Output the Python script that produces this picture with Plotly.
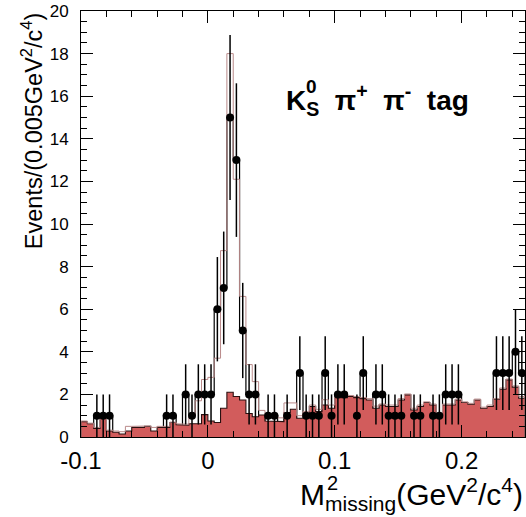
import numpy as np
import plotly.graph_objects as go

# ---- data (bins of 0.005 GeV^2/c^4 from -0.1 to 0.25) ----
x_min, bin_w, n_bins = -0.1, 0.005, 70
data_counts = [0, 0, 1, 1, 1, 0, 0, 0, 0, 0,
               0, 0, 0, 1, 1, 0, 2, 1, 2, 2,
               2, 6, 7, 15, 13, 5, 2, 2, 0, 1,
               1, 0, 1, 0, 3, 1, 1, 1, 3, 1,
               2, 2, 0, 1, 3, 0, 2, 2, 1, 1,
               1, 0, 1, 1, 0, 1, 1, 2, 2, 2,
               0, 0, 0, 0, 0, 3, 3, 3, 4, 3]
background = [0.72, 0.62, 0.40, 1.00, 0.28, 0.22, 0.14, 0.28, 0.45, 0.45,
              0.50, 0.28, 0.45, 0.45, 0.68, 0.58, 0.55, 0.62, 0.62, 1.05,
              0.75, 0.68, 1.35, 2.10, 1.90, 1.74, 1.10, 0.95, 1.03, 0.75,
              0.72, 0.72, 1.15, 1.30, 0.88, 1.11, 1.43, 1.19, 1.50, 1.35,
              1.85, 1.85, 1.90, 1.85, 1.80, 1.74, 1.35, 1.50, 1.43, 1.43,
              1.74, 1.98, 1.27, 1.43, 1.62, 1.50, 1.03, 1.50, 1.50, 1.74,
              1.62, 1.54, 1.74, 1.35, 1.43, 1.77, 2.24, 2.68, 2.34, 1.82]
mc_total = [0.75, 0.65, 0.45, 1.05, 0.32, 0.28, 0.25, 0.50, 0.50, 0.50,
            0.52, 0.45, 0.50, 0.50, 0.70, 0.62, 0.60, 1.00, 1.70, 2.70,
            2.80, 3.70, 8.75, 18.0, 12.1, 6.60, 3.40, 2.60, 1.25, 1.00,
            1.00, 0.90, 1.60, 1.60, 1.00, 1.20, 1.50, 1.30, 1.75, 1.50,
            1.90, 2.10, 1.95, 1.90, 1.85, 1.80, 1.45, 1.55, 1.50, 1.50,
            1.80, 2.02, 1.35, 1.50, 1.65, 1.55, 1.10, 1.55, 1.55, 1.78,
            1.65, 1.58, 1.78, 1.40, 1.50, 1.80, 2.30, 2.72, 2.40, 1.90]
x_ticks = [-0.1, 0.0, 0.1, 0.2]
x_tick_text = ["-0.1", "0", "0.1", "0.2"]
y_ticks = [0, 2, 4, 6, 8, 10, 12, 14, 16, 18, 20]

edges = x_min + bin_w * np.arange(n_bins + 1)
centers = edges[:-1] + bin_w / 2


def step_xy(vals):
    xs, ys = [edges[0]], [0.0]
    for i, v in enumerate(vals):
        xs += [edges[i], edges[i + 1]]
        ys += [v, v]
    xs.append(edges[-1])
    ys.append(0.0)
    return xs, ys


FONT = "Liberation Sans, Arial, sans-serif"
fig = go.Figure()

# data histogram as black steps
dx, dy = step_xy(data_counts)
fig.add_trace(go.Scatter(x=dx, y=dy, mode="lines",
                         line=dict(color="black", width=1.2), hoverinfo="skip",
                         showlegend=False))
# background filled
bx, by = step_xy(background)
fig.add_trace(go.Scatter(x=bx, y=by, mode="lines", fill="tozeroy",
                         fillcolor="#d25c5c",
                         line=dict(color="#2a1010", width=1.1), hoverinfo="skip",
                         showlegend=False))
# MC total thin line
mx, my = step_xy(mc_total)
fig.add_trace(go.Scatter(x=mx, y=my, mode="lines",
                         line=dict(color="#b98a8a", width=1), hoverinfo="skip",
                         showlegend=False))
# data points
dc = np.array(data_counts, dtype=float)
mask = dc > 0
fig.add_trace(go.Scatter(x=centers[mask], y=dc[mask], mode="markers",
                         marker=dict(color="black", size=8),
                         error_y=dict(type="data", array=np.sqrt(dc[mask]),
                                      color="black", thickness=1.5, width=0),
                         showlegend=False))

fig.update_layout(
    width=526, height=517,
    margin=dict(l=81, r=1, t=11, b=80),
    paper_bgcolor="white", plot_bgcolor="white",
    font=dict(family=FONT, color="black"),
    xaxis=dict(range=[-0.1, 0.25], tickvals=x_ticks, ticktext=x_tick_text,
               ticks="inside", ticklen=12, tickwidth=1, tickcolor="black",
               showline=True, linecolor="black", linewidth=1, mirror="ticks",
               showgrid=False, zeroline=False,
               tickfont=dict(size=24, family=FONT),
               ticklabelstandoff=2,
               minor=dict(dtick=0.02, tick0=0, ticks="inside", ticklen=6,
                          tickcolor="black", showgrid=False)),
    yaxis=dict(range=[0, 20], tickvals=y_ticks,
               ticks="inside", ticklen=12, tickwidth=1, tickcolor="black",
               showline=True, linecolor="black", linewidth=1, mirror="ticks",
               showgrid=False, zeroline=False,
               tickfont=dict(size=17, family=FONT),
               ticklabelstandoff=8,
               minor=dict(dtick=0.5, tick0=0, ticks="inside", ticklen=6,
                          tickcolor="black", showgrid=False)),
)

# axis titles
fig.add_annotation(text="M<sub>missing</sub>(GeV<sup>2</sup>/c<sup>4</sup>)",
                   xref="paper", yref="paper", x=1.0, y=-0.188,
                   xanchor="right", yanchor="bottom", showarrow=False,
                   font=dict(size=30, family=FONT))
fig.add_annotation(text="2", xref="paper", yref="paper", x=0.5495, y=-0.0775,
                   xanchor="left", yanchor="top", showarrow=False,
                   font=dict(size=20, family=FONT))
fig.add_annotation(text="Events/(0.005GeV<sup>2</sup>/c<sup>4</sup>)",
                   xref="paper", yref="paper", x=-0.11, y=1.0,
                   xanchor="center", yanchor="top", textangle=-90,
                   showarrow=False, font=dict(size=23.5, family=FONT))
# label
fig.add_annotation(text="<b>K<sub>S</sub>&nbsp; π<sup>+</sup>&nbsp; π<sup>-</sup>&nbsp; tag</b>",
                   xref="paper", yref="paper", x=0.457, y=0.791,
                   xanchor="left", yanchor="middle", showarrow=False,
                   font=dict(size=28, family=FONT))
fig.add_annotation(text="<b>0</b>", xref="paper", yref="paper", x=0.503, y=0.8216,
                   xanchor="left", yanchor="middle", showarrow=False,
                   font=dict(size=19, family=FONT))

fig.write_html("out.html")
